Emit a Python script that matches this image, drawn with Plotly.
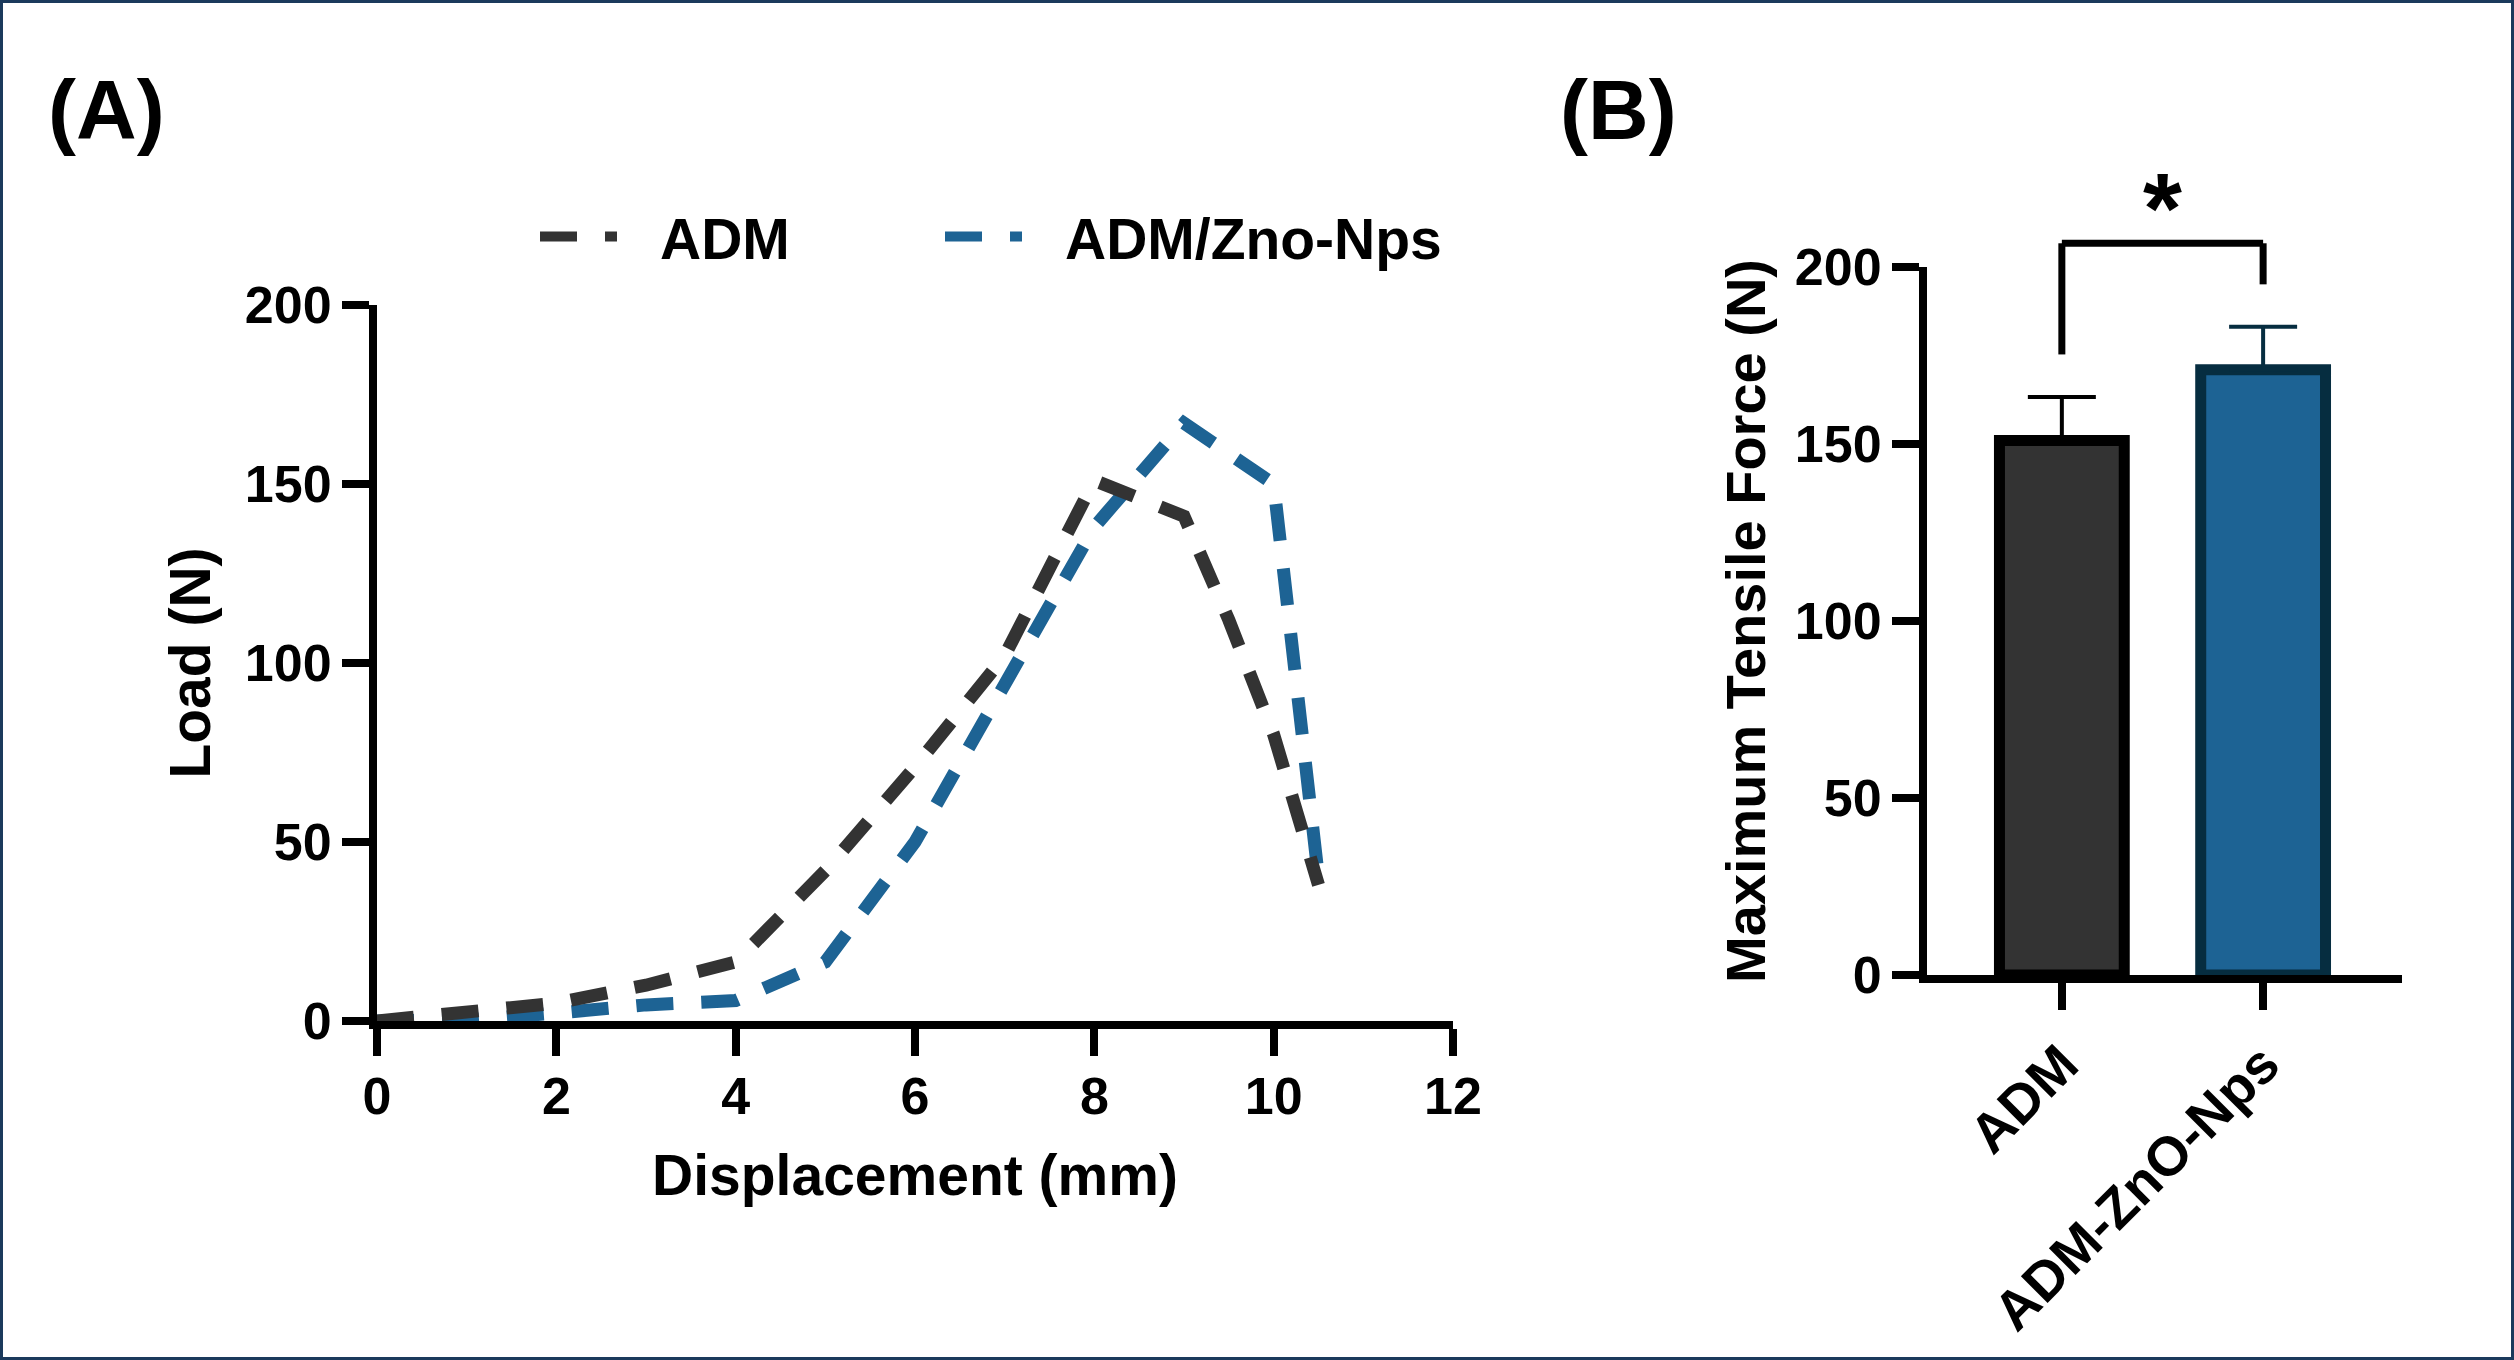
import plotly.graph_objects as go

# ---------------- data ----------------
disp_adm = [0, 1, 2, 3, 4, 5, 6, 7, 8, 8.5, 9, 9.5, 10, 10.5]
load_adm = [0, 2.2, 5, 10, 16.5, 42, 71, 102, 151, 146, 141, 112, 80, 38]

disp_zno = [0, 1, 2, 3, 4, 5, 6, 7, 8, 9, 10, 10.25, 10.5]
load_zno = [0, 0.3, 2.2, 4.5, 5.7, 16.5, 50, 94, 138, 167, 150, 95, 40]

series_names = ["ADM", "ADM/Zno-Nps"]

groups = ["ADM", "ADM-ZnO-Nps"]
means = [151, 171]
sds = [12.3, 12.1]

x_ticks_a = [0, 2, 4, 6, 8, 10, 12]
y_ticks = [0, 50, 100, 150, 200]

# ---------------- style ----------------
W, H = 2514, 1360
FONT = "Liberation Sans, Arial, sans-serif"
C_ADM = "#333333"
C_ZNO = "#1d6394"
C_ZNO_EDGE = "#062d40"


def px_x(p):
    return p / W


def px_y(p):
    return 1 - p / H


domA_x = [px_x(377), px_x(1453)]
domA_y = [px_y(1021), px_y(305)]
domB_x = [px_x(1927), px_x(2402)]
domB_y = [px_y(975), px_y(267)]

dash = "37px,28px"
legend_dash = "37px,28px,12px,200px"

fig = go.Figure()

# data curves (legend entries are drawn by the legend-only traces below)
fig.add_trace(go.Scatter(
    x=disp_zno, y=load_zno, name=series_names[1], mode="lines",
    line=dict(color=C_ZNO, width=13, dash=dash), legendgroup="zno", showlegend=False,
    cliponaxis=False, xaxis="x", yaxis="y",
))
fig.add_trace(go.Scatter(
    x=disp_adm, y=load_adm, name=series_names[0], mode="lines",
    line=dict(color=C_ADM, width=13, dash=dash), legendgroup="adm", showlegend=False,
    cliponaxis=False, xaxis="x", yaxis="y",
))
# legend entries
fig.add_trace(go.Scatter(
    x=[None], y=[None], name=series_names[0], mode="lines", legend="legend",
    line=dict(color=C_ADM, width=13, dash=legend_dash), legendgroup="adm",
    xaxis="x", yaxis="y",
))
fig.add_trace(go.Scatter(
    x=[None], y=[None], name=series_names[1], mode="lines", legend="legend2",
    line=dict(color=C_ZNO, width=13, dash=legend_dash), legendgroup="zno",
    xaxis="x", yaxis="y",
))

bar_fill = [C_ADM, C_ZNO]
bar_edge = ["#000000", C_ZNO_EDGE]
for i, g in enumerate(groups):
    fig.add_trace(go.Bar(
        x=[g], y=[means[i]], xaxis="x2", yaxis="y2", showlegend=False,
        width=0.62,
        marker=dict(color=bar_fill[i], line=dict(color=bar_edge[i], width=11)),
        error_y=dict(type="data", array=[sds[i]], arrayminus=[0], symmetric=False,
                     color=bar_edge[i], thickness=4, width=34),
    ))

axis_common = dict(
    showline=True, linecolor="black", linewidth=8,
    ticks="outside", tickcolor="black", tickwidth=8, ticklen=27,
    showgrid=False, zeroline=False, automargin=False,
    tickfont=dict(family=FONT, size=52, color="black", weight="bold"),
)

legend_common = dict(
    orientation="h", xanchor="left", yanchor="middle",
    font=dict(family=FONT, size=57, color="black", weight="bold"),
    itemwidth=115, bgcolor="rgba(0,0,0,0)", borderwidth=0,
)

fig.update_layout(
    template="none",
    width=W, height=H,
    margin=dict(l=0, r=0, t=0, b=0, pad=0, autoexpand=False),
    paper_bgcolor="white", plot_bgcolor="white",
    barmode="overlay",
    font=dict(family=FONT, color="black"),
    xaxis=dict(domain=domA_x, range=[0, 12], tickvals=x_ticks_a, anchor="y",
               ticklabelstandoff=-4,
               title=dict(text="Displacement (mm)", standoff=34,
                          font=dict(family=FONT, size=57, color="black", weight="bold")),
               **axis_common),
    yaxis=dict(domain=domA_y, range=[0, 200], tickvals=y_ticks, anchor="x",
               title=dict(text="Load (N)", standoff=19,
                          font=dict(family=FONT, size=57, color="black", weight="bold")),
               **axis_common),
    xaxis2=dict(domain=domB_x, range=[-0.67, 1.69], type="category", anchor="y2",
                tickangle=-45,
                **{**axis_common,
                   "tickfont": dict(family=FONT, size=55, color="black", weight="bold")}),
    yaxis2=dict(domain=domB_y, range=[0, 200], tickvals=y_ticks, anchor="x2",
                title=dict(text="Maximum Tensile Force (N)", standoff=14,
                           font=dict(family=FONT, size=56, color="black", weight="bold")),
                **axis_common),
    legend=dict(x=px_x(535), y=px_y(237), **legend_common),
    legend2=dict(x=px_x(940), y=px_y(237), **legend_common),
)

# panel labels
for lbl, cx in [("(A)", 106), ("(B)", 1618)]:
    fig.add_annotation(text=lbl, x=px_x(cx), y=px_y(110), xref="paper", yref="paper",
                       xanchor="center", yanchor="middle", showarrow=False,
                       font=dict(family=FONT, size=84, color="black", weight="bold"))


# significance bracket (derived from bar data, placed in paper coordinates)
def yB(v):
    return domB_y[0] + (v / 200.0) * (domB_y[1] - domB_y[0])


def xB(i):
    lo, hi = -0.67, 1.69
    return domB_x[0] + (i - lo) / (hi - lo) * (domB_x[1] - domB_x[0])


top0 = means[0] + sds[0]
top1 = means[1] + sds[1]
bracket_top = top1 + 23.6
for seg in [((0, top0 + 12), (0, bracket_top)), ((0, bracket_top), (1, bracket_top)),
            ((1, bracket_top), (1, top1 + 12))]:
    (i0, v0), (i1, v1) = seg
    fig.add_shape(type="line", xref="paper", yref="paper",
                  x0=xB(i0), y0=yB(v0), x1=xB(i1), y1=yB(v1),
                  line=dict(color="black", width=7))
fig.add_annotation(text="*", x=xB(0.5), y=yB(bracket_top + 10), xref="paper", yref="paper",
                   xanchor="center", yanchor="middle", showarrow=False,
                   font=dict(family=FONT, size=100, color="black", weight="bold"))

# outer frame
fig.add_shape(type="rect", xref="paper", yref="paper", x0=0, y0=0, x1=1, y1=1,
              line=dict(color="#1b3a5c", width=6))

fig.write_html("out.html",
               config={"displayModeBar": False},
               post_script="document.body.style.margin='0';document.body.style.overflow='hidden';")
